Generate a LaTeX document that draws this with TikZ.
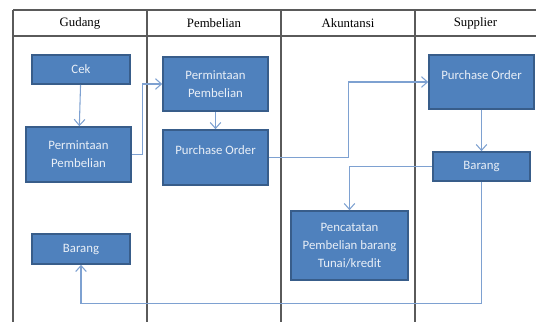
\documentclass[tikz,border=0pt]{standalone}
\usepackage{xcolor}
\usepackage{fontspec}
\setmainfont{Liberation Serif}
\newfontfamily\boxfont{Carlito}
\usetikzlibrary{arrows.meta, calc}

\definecolor{boxfill}{HTML}{4F81BD}
\definecolor{boxline}{HTML}{385D8A}
\definecolor{boxtext}{HTML}{E9EFF7}
\definecolor{flowline}{HTML}{7EA1D1}
\definecolor{laneline}{HTML}{5A5A5A}

\begin{document}
\begin{tikzpicture}[x=0.75pt, y=-0.75pt,
    lane/.style={draw=laneline, line width=1.1pt},
    head/.style={font=\fontsize{9.6}{11}\selectfont, inner sep=0pt},
    procbox/.style={rectangle, draw=boxline, fill=boxfill, line width=1.2pt, text=boxtext, align=center, font=\boxfont\fontsize{9.6}{13.6}\selectfont, inner sep=0pt},
    arrow/.style={draw=flowline, line width=0.8pt, -{Straight Barb[length=4.5pt, width=8pt]}}]

    \useasboundingbox (0,0) rectangle (536,322);

    % Lanes
    \draw [lane] (13,10) -- (536,10);
    \draw [lane] (13,36) -- (536,36);
    \foreach \x in {13,147,281,415}
        \draw [lane] (\x,10) -- (\x,322);
    \node [head] (hgudang) at (80,23) {Gudang};
    \node [head] (hbeli) at (214,23) {Pembelian};
    \node [head] (hakun) at (348,23) {Akuntansi};
    \node [head] (hsup) at (475.5,23) {Supplier};

    % Process Boxes
    \node [procbox, minimum width=73.5pt, minimum height=21.75pt] (cek) at (81,69.5) {Cek};
    \node [procbox, minimum width=78.75pt, minimum height=41.25pt] (ppgud) at (78.5,154.5) {Permintaan\\Pembelian};
    \node [procbox, minimum width=73.5pt, minimum height=22.5pt] (brgud) at (81,249) {Barang};
    \node [procbox, minimum width=78.75pt, minimum height=40.5pt] (ppbeli) at (215.5,84) {Permintaan\\Pembelian};
    \node [procbox, minimum width=78.75pt, minimum height=41.25pt] (pobeli) at (215.5,157.5) {Purchase Order\\[-2.5pt]\mbox{}};
    \node [procbox, minimum width=78.75pt, minimum height=40.5pt] (posup) at (481.5,82) {Purchase Order\\[-2.5pt]\mbox{}};
    \node [procbox, minimum width=72.75pt, minimum height=21.75pt] (brsup) at (481.5,166.5) {Barang};
    \node [procbox, minimum width=87.75pt, minimum height=51.75pt] (catat) at (349.5,245.5) {Pencatatan\\Pembelian barang\\Tunai/kredit};

    % Flow Arrows
    \draw [arrow] (cek) -- (ppgud);
    \draw [arrow] (ppgud.east) -- ++(11,0) |- (ppbeli.west);
    \draw [arrow] (ppbeli) -- (pobeli);
    \draw [arrow] (pobeli.east) -| ($(pobeli.east)!0.5!(posup.west)$) |- (posup.west);
    \draw [arrow] (posup) -- (brsup);
    \draw [arrow] (brsup.west) -| (catat.north);
    \draw [arrow] (brsup.south) -- ++(0,122) -| (brgud.south);

\end{tikzpicture}
\end{document}
